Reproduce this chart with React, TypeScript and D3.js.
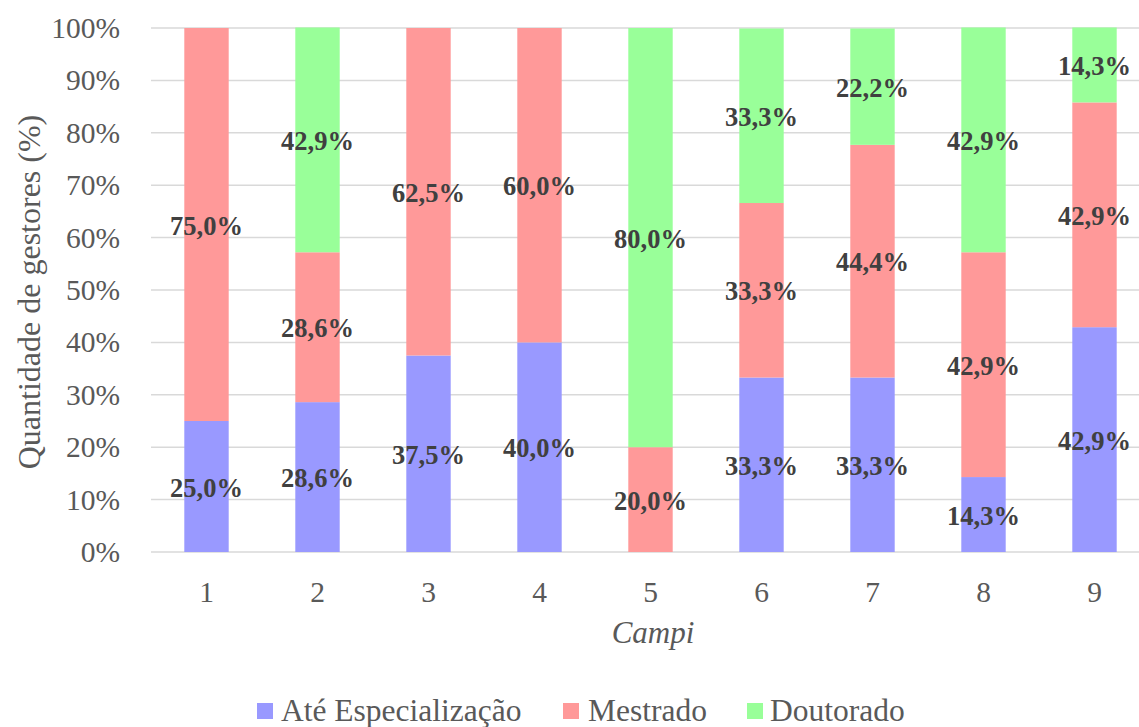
import React from "react";
import * as d3 from "d3";

const categories = ["1", "2", "3", "4", "5", "6", "7", "8", "9"];
const seriesNames = ["Até Especialização", "Mestrado", "Doutorado"];
const ateEspecializacao = [25.0, 28.6, 37.5, 40.0, 0, 33.3, 33.3, 14.3, 42.9];
const mestrado = [75.0, 28.6, 62.5, 60.0, 20.0, 33.3, 44.4, 42.9, 42.9];
const doutorado = [0, 42.9, 0, 0, 80.0, 33.3, 22.2, 42.9, 14.3];
const yTicks = [0, 10, 20, 30, 40, 50, 60, 70, 80, 90, 100];
const colors = ["#9999ff", "#ff9999", "#99ff99"];

const W = 1139;
const H = 727;
const FF = "Liberation Serif, Tinos, Times New Roman, serif";

export default function App() {
  const x = d3.scaleBand<string>().domain(categories).range([151, 1150]).paddingInner(0.6).paddingOuter(0.3);
  const y = d3.scaleLinear().domain([0, 100]).range([552, 28]);

  const rows = categories.map((c, i) => ({
    cat: c,
    s0: ateEspecializacao[i],
    s1: mestrado[i],
    s2: doutorado[i],
  }));
  const stack = d3.stack<any>().keys(["s0", "s1", "s2"]);
  const layers = stack(rows);

  const fmt = (v: number) => v.toFixed(1).replace(".", ",") + "%";

  const legendItems = [
    { sq: 257, tx: 281 },
    { sq: 563, tx: 588 },
    { sq: 747, tx: 770 },
  ];

  return (
    <svg width={W} height={H} style={{ position: "absolute", left: 0, top: 0, background: "#fff", fontFamily: FF }}>
      <g style={{ fontFamily: FF }}>
        {yTicks.map((t) => (
          <g key={t}>
            <line x1={151} x2={W} y1={y(t)} y2={y(t)} stroke="#d9d9d9" strokeWidth={1.5} />
            <text x={120} y={y(t)} dy="0.34em" textAnchor="end" fontSize={29.5} fill="#595959">
              {t}%
            </text>
          </g>
        ))}
        {layers.map((layer, li) => (
          <g key={li}>
            {layer.map((d: any, i: number) => {
              const h = y(d[0]) - y(d[1]);
              if (h <= 0) return null;
              return (
                <rect key={i} x={x(categories[i])} y={y(d[1])} width={x.bandwidth()} height={h} fill={colors[li]} />
              );
            })}
          </g>
        ))}
        {layers.map((layer, li) => (
          <g key={"l" + li}>
            {layer.map((d: any, i: number) => {
              const v = d[1] - d[0];
              if (v <= 0) return null;
              return (
                <text
                  key={i}
                  x={(x(categories[i]) as number) + x.bandwidth() / 2}
                  y={y((d[0] + d[1]) / 2)}
                  dy="0.38em"
                  textAnchor="middle"
                  fontSize={26.5}
                  fontWeight="bold"
                  fill="#404040"
                >
                  {fmt(v)}
                </text>
              );
            })}
          </g>
        ))}
        {categories.map((c) => (
          <text
            key={c}
            x={(x(c) as number) + x.bandwidth() / 2}
            y={602}
            textAnchor="middle"
            fontSize={29.5}
            fill="#595959"
          >
            {c}
          </text>
        ))}
        <text x={653} y={643} textAnchor="middle" fontSize={31} fontStyle="italic" fill="#595959">
          Campi
        </text>
        <text transform={`translate(40,292) rotate(-90)`} textAnchor="middle" fontSize={32} fill="#595959">
          Quantidade de gestores (%)
        </text>
        {seriesNames.map((n, i) => (
          <g key={n}>
            <rect x={legendItems[i].sq} y={703} width={16} height={16} fill={colors[i]} />
            <text x={legendItems[i].tx} y={721} fontSize={31.5} fill="#595959">
              {n}
            </text>
          </g>
        ))}
      </g>
    </svg>
  );
}
